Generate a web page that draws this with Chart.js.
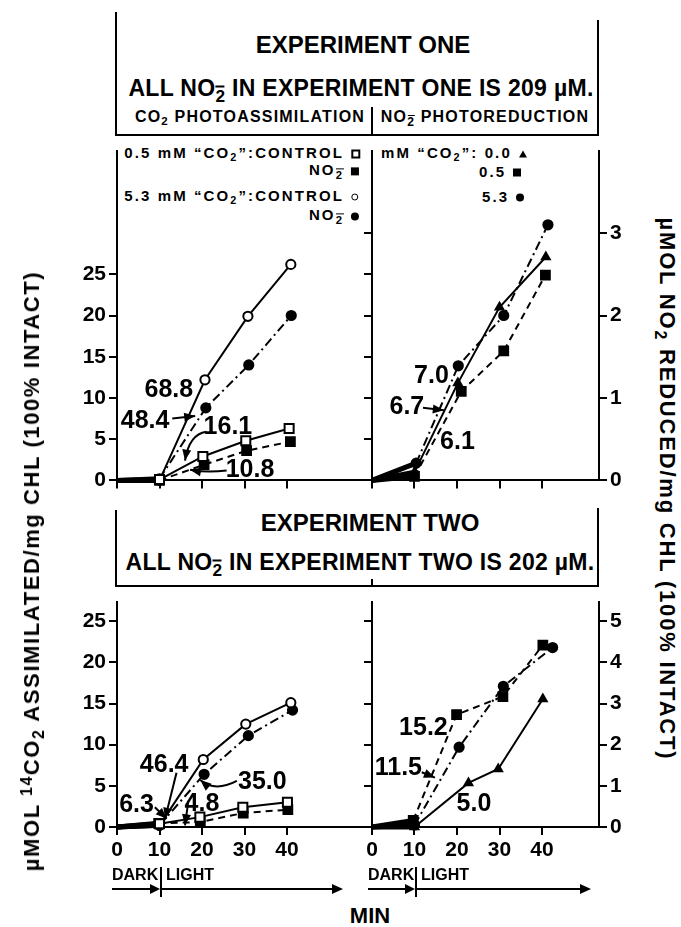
<!DOCTYPE html>
<html>
<head>
<meta charset="utf-8">
<script src="https://cdn.jsdelivr.net/npm/chart.js@4.4.1/dist/chart.umd.min.js"></script>
<style>
html,body{margin:0;padding:0;background:#fff}
body{position:relative;width:681px;height:927px;overflow:hidden;font-family:'Liberation Sans',Arial,Helvetica,sans-serif;font-weight:bold;color:#000}
canvas{position:absolute}
.t{position:absolute;white-space:nowrap;line-height:1}
.c{transform:translate(-50%,-50%)}
.l{transform:translate(0,-50%)}
.r{transform:translate(-100%,-50%)}
.ln{position:absolute;background:#000}
sub{font-size:.72em;vertical-align:-.3em;line-height:0}
sup{font-size:.72em;vertical-align:.45em;line-height:0}
.ion{position:relative;display:inline-block;vertical-align:baseline}
.ion i{font-style:normal;font-size:.75em;position:relative;top:.35em}
.ion b{position:absolute;left:.02em;right:.02em;height:.09em;bottom:.54em;background:#000}
.sym{display:inline-block;vertical-align:middle;margin-left:7px;box-sizing:border-box}
.osq{width:9px;height:9px;border:2px solid #000}
.fsq{width:8px;height:8px;background:#000}
.oci{width:7px;height:7px;border:1.5px solid #000;border-radius:50%}
.fci{width:8px;height:8px;background:#000;border-radius:50%}
.tri{width:0;height:0;border-left:4px solid transparent;border-right:4px solid transparent;border-bottom:7px solid #000}
.hd{font-size:24px}
.sub2{font-size:23px;letter-spacing:.3px}
.col{font-size:16px;letter-spacing:1.2px}
.lg{font-size:15px;letter-spacing:2.1px}
.dl{font-size:16px}
</style>
</head>
<body>

<!-- experiment one header box -->
<div class="ln" style="left:115px;top:12px;width:2px;height:124px"></div>
<div class="ln" style="left:597px;top:20px;width:2px;height:116px"></div>
<div class="ln" style="left:371px;top:107px;width:2px;height:29px"></div>
<div class="ln" style="left:115px;top:134px;width:484px;height:2px"></div>
<div class="t c hd" style="left:363px;top:45px">EXPERIMENT ONE</div>
<div class="t c sub2" style="left:361px;top:88px">ALL NO<span class="ion"><b></b><i>2</i></span> IN EXPERIMENT ONE IS 209 µM.</div>
<div class="t c col" style="left:250px;top:117px">CO<sub>2</sub> PHOTOASSIMILATION</div>
<div class="t c col" style="left:485px;top:117px">NO<span class="ion"><b></b><i>2</i></span> PHOTOREDUCTION</div>

<!-- legends -->
<div class="t r lg" style="left:360px;top:152px">0.5 mM “CO<sub>2</sub>”:CONTROL<span class="sym osq"></span></div>
<div class="t r lg" style="left:359px;top:170px">NO<span class="ion"><b></b><i>2</i></span><span class="sym fsq"></span></div>
<div class="t r lg" style="left:358px;top:195px">5.3 mM “CO<sub>2</sub>”:CONTROL<span class="sym oci"></span></div>
<div class="t r lg" style="left:359px;top:215px">NO<span class="ion"><b></b><i>2</i></span><span class="sym fci"></span></div>
<div class="t l lg" style="left:381px;top:152px">mM “CO<sub>2</sub>”: 0.0<span class="sym tri"></span></div>
<div class="t l lg" style="left:479px;top:171px">0.5<span class="sym fsq"></span></div>
<div class="t l lg" style="left:482px;top:196px">5.3<span class="sym fci"></span></div>

<!-- experiment two header box -->
<div class="ln" style="left:115px;top:510px;width:2px;height:77px"></div>
<div class="ln" style="left:597px;top:508px;width:2px;height:79px"></div>
<div class="ln" style="left:115px;top:585px;width:484px;height:2px"></div>
<div class="ln" style="left:371px;top:579px;width:2px;height:8px"></div>
<div class="t c hd" style="left:370px;top:523px">EXPERIMENT TWO</div>
<div class="t c sub2" style="left:360px;top:562px">ALL NO<span class="ion"><b></b><i>2</i></span> IN EXPERIMENT TWO IS 202 µM.</div>

<canvas id="cTL" width="335" height="361" style="left:37px;top:135px"></canvas>
<canvas id="cTR" width="280" height="361" style="left:362px;top:135px"></canvas>
<canvas id="cBL" width="335" height="286" style="left:37px;top:586px"></canvas>
<canvas id="cBR" width="280" height="286" style="left:362px;top:586px"></canvas>

<!-- dark / light bars -->
<div class="t l dl" style="left:112px;top:875px">DARK</div>
<div class="t l dl" style="left:166px;top:875px">LIGHT</div>
<div class="ln" style="left:160px;top:867px;width:2px;height:30px"></div>
<div class="ln" style="left:112px;top:888px;width:40px;height:2px"></div>
<div style="position:absolute;left:150px;top:884px;border-left:10px solid #000;border-top:5px solid transparent;border-bottom:5px solid transparent"></div>
<div class="ln" style="left:162px;top:888px;width:172px;height:2px"></div>
<div style="position:absolute;left:332px;top:884px;border-left:11px solid #000;border-top:5px solid transparent;border-bottom:5px solid transparent"></div>

<div class="t l dl" style="left:368px;top:875px">DARK</div>
<div class="t l dl" style="left:421px;top:875px">LIGHT</div>
<div class="ln" style="left:415px;top:867px;width:2px;height:30px"></div>
<div class="ln" style="left:368px;top:888px;width:39px;height:2px"></div>
<div style="position:absolute;left:405px;top:884px;border-left:10px solid #000;border-top:5px solid transparent;border-bottom:5px solid transparent"></div>
<div class="ln" style="left:417px;top:888px;width:165px;height:2px"></div>
<div style="position:absolute;left:580px;top:884px;border-left:11px solid #000;border-top:5px solid transparent;border-bottom:5px solid transparent"></div>

<div class="t c" style="left:370px;top:916px;font-size:22px">MIN</div>

<!-- axis titles -->
<div class="t" style="left:32px;top:571px;font-size:22px;letter-spacing:1.6px;transform:translate(-50%,-50%) rotate(-90deg)">µMOL <sup>14</sup>CO<sub>2</sub> ASSIMILATED/mg CHL (100% INTACT)</div>
<div class="t" style="left:667px;top:489px;font-size:22px;letter-spacing:1.8px;transform:translate(-50%,-50%) rotate(90deg)">µMOL NO<sub>2</sub> REDUCED/mg CHL (100% INTACT)</div>

<script>
// ---- data (time in min) ----
var XTICKS=[0,10,20,30,40];
var CO2_TICKS=[0,5,10,15,20,25];
var NO2_TICKS_1=[0,1,2,3];
var NO2_MINOR_1=[0.5,1,1.5,2,2.5,3];
var NO2_TICKS_2=[0,1,2,3,4,5];
var NO2_MINOR_2=[1,2,3,4,5];

// experiment one, CO2 photoassimilation
var e1LowCtrlT=[0,10,20.2,30.3,40.5], e1LowCtrl=[0,0.1,2.9,4.8,6.3];
var e1LowNo2T=[0,10,20.5,30.5,40.8],  e1LowNo2=[0,0,1.9,3.6,4.7];
var e1HiCtrlT=[0,10,20.7,30.8,40.9],  e1HiCtrl=[0,0,12.2,19.9,26.2];
var e1HiNo2T=[0,10,20.9,31,41],       e1HiNo2=[0,0.2,8.8,14.0,20.0];

// experiment one, NO2- photoreduction
var r1C0T=[0,10,20.2,30,40.9],    r1C0=[0,0.1,1.18,2.10,2.71];
var r1C05T=[0,10,21,31,40.8],     r1C05=[0,0.05,1.08,1.57,2.49];
var r1C53T=[0,10.4,20.3,31,41.4], r1C53=[0,0.21,1.39,2.0,3.10];

// experiment two, CO2 photoassimilation
var e2LowCtrlT=[0,10,19.5,29.6,40.1], e2LowCtrl=[0,0.4,1.2,2.4,3.0];
var e2LowNo2T=[0,9.8,19.6,29.7,40.2], e2LowNo2=[0,0.45,0.6,1.7,2.1];
var e2HiCtrlT=[0,10,20.3,30.3,40.9],  e2HiCtrl=[0,0.2,8.2,12.5,15.1];
var e2HiNo2T=[0,10,20.5,30.9,41.3],   e2HiNo2=[0,0.2,6.4,11.1,14.2];

// experiment two, NO2- photoreduction
var r2C0T=[0,10,22.7,29.7,40.2],  r2C0=[0,0,1.07,1.41,3.11];
var r2C05T=[0,9.7,19.9,30.8,40.2],r2C05=[0,0.16,2.73,3.17,4.42];
var r2C53T=[0,10,20.5,30.9,42.5], r2C53=[0,0.05,1.94,3.42,4.36];

// rate labels next to the curves
var notesTL=[
  {text:'68.8',at:[12.2,10.9]},
  {text:'48.4',at:[6.6,7.2],from:[13.0,7.5],to:[18.4,7.8]},
  {text:'16.1',at:[26.1,6.5],from:[21,5.9],ctrl:[17,5.6],to:[16,2.4]},
  {text:'10.8',at:[31.3,1.2],from:[25.8,1.2],ctrl:[21,0.9],to:[17.2,1.3]}
];
var notesTR=[
  {text:'7.0',at:[14.0,1.27]},
  {text:'6.7',at:[8.2,0.89],from:[12.0,0.88],to:[16.9,0.85]},
  {text:'6.1',at:[20.1,0.47]}
];
var notesBL=[
  {text:'46.4',at:[11.1,7.5],from:[14.0,6.6],to:[11.3,1.0]},
  {text:'6.3',at:[4.6,2.6],from:[8.9,2.4],to:[11.7,1.0]},
  {text:'4.8',at:[20,2.8],from:[16.8,3.2],to:[16.0,0.2]},
  {text:'35.0',at:[34.2,5.5],from:[28.2,5.6],ctrl:[23,4.2],to:[19.6,5.7]}
];
var notesBR=[
  {text:'15.2',at:[12.1,2.41]},
  {text:'11.5',at:[6.2,1.43],from:[11.7,1.33],to:[14.8,1.2]},
  {text:'5.0',at:[24,0.56]}
];

var K='#000';
var TICK_FONT={family:"'Liberation Sans',Arial,sans-serif",size:21,weight:'bold'};
var DASH=[7,5], DASHDOT=[9,4,2,4];

// marker + line styles
var ST={
  openSq:{pointStyle:'rect',pointRadius:6.4,pointBackgroundColor:'#fff',borderDash:[]},
  fillSq:{pointStyle:'rect',pointRadius:6.2,pointBackgroundColor:K,borderDash:DASH},
  openCi:{pointStyle:'circle',pointRadius:4.6,pointBackgroundColor:'#fff',borderDash:[]},
  fillCi:{pointStyle:'circle',pointRadius:4.6,pointBackgroundColor:K,borderDash:DASHDOT},
  tri:{pointStyle:'triangle',pointRadius:4.5,pointBackgroundColor:K,borderDash:[]}
};

function pts(t,v){return t.map(function(x,i){return {x:x,y:v[i]};});}
function ds(label,t,v,st,axis){
  var s=ST[st];
  return {label:label,data:pts(t,v),yAxisID:axis||'y',borderColor:K,borderWidth:2,borderDash:s.borderDash,
    pointStyle:s.pointStyle,
    // the dark-period start point sits under the thick baseline, no marker shows there
    pointRadius:function(c){return c.dataIndex===0?0:s.pointRadius;},
    pointBackgroundColor:s.pointBackgroundColor,
    pointBorderColor:K,pointBorderWidth:2,tension:0,clip:false,fill:false,
    segment:{
      borderWidth:function(c){return c.p0DataIndex===0?5:2;},
      borderDash:function(c){return c.p0DataIndex===0?[]:s.borderDash;}
    }};
}

function fixTicks(list){return function(s){s.ticks=list.map(function(v){return {value:v};});};}
function xAxis(max,labels,h){
  return {type:'linear',position:'bottom',min:0,max:max,afterBuildTicks:fixTicks(XTICKS),
    afterFit:function(s){s.height=h;},
    ticks:{display:labels,color:K,font:TICK_FONT,padding:3,maxRotation:0,autoSkip:false},
    grid:{drawOnChartArea:false,tickLength:8,color:K,lineWidth:2},
    border:{color:K,width:2}};
}
function yAxis(pos,max,list,labels,w){
  return {type:'linear',position:pos,min:0,max:max,afterBuildTicks:fixTicks(list),
    afterFit:function(s){s.width=w;},
    ticks:{display:labels,color:K,font:TICK_FONT,padding:3,autoSkip:false},
    grid:{drawOnChartArea:false,tickLength:8,color:K,lineWidth:2},
    border:{color:K,width:2}};
}

// draws the rate numbers and their arrows in data coordinates
var notesPlugin={id:'notes',afterDatasetsDraw:function(chart,args,opts){
  var xs=chart.scales.x, ys=chart.scales[opts.axis];
  var ctx=chart.ctx;
  function P(p){return [xs.getPixelForValue(p[0]),ys.getPixelForValue(p[1])];}
  ctx.save();
  ctx.fillStyle=K;ctx.strokeStyle=K;ctx.lineWidth=2;
  ctx.font="bold 25px 'Liberation Sans',Arial,sans-serif";
  ctx.textAlign='center';ctx.textBaseline='middle';
  opts.items.forEach(function(n){
    var a=P(n.at);
    ctx.fillText(n.text,a[0],a[1]);
    if(!n.from)return;
    var f=P(n.from),e=P(n.to),c=n.ctrl?P(n.ctrl):null;
    ctx.beginPath();ctx.moveTo(f[0],f[1]);
    if(c)ctx.quadraticCurveTo(c[0],c[1],e[0],e[1]);else ctx.lineTo(e[0],e[1]);
    ctx.stroke();
    var b=c||f, ang=Math.atan2(e[1]-b[1],e[0]-b[0]);
    ctx.beginPath();ctx.moveTo(e[0],e[1]);
    ctx.lineTo(e[0]-11*Math.cos(ang)+4.5*Math.sin(ang),e[1]-11*Math.sin(ang)-4.5*Math.cos(ang));
    ctx.lineTo(e[0]-11*Math.cos(ang)-4.5*Math.sin(ang),e[1]-11*Math.sin(ang)+4.5*Math.cos(ang));
    ctx.closePath();ctx.fill();
  });
  ctx.restore();
}};

function panel(id,datasets,scales,notes,axis){
  return new Chart(document.getElementById(id),{
    type:'line',
    data:{datasets:datasets},
    options:{responsive:false,animation:false,
      layout:{padding:0,autoPadding:false},
      plugins:{legend:{display:false},tooltip:{enabled:false},notes:{items:notes,axis:axis}},
      scales:scales},
    plugins:[notesPlugin]
  });
}

Chart.defaults.font.family="'Liberation Sans',Arial,sans-serif";

panel('cTL',[
  ds('0.5 mM control',e1LowCtrlT,e1LowCtrl,'openSq'),
  ds('0.5 mM NO2-',e1LowNo2T,e1LowNo2,'fillSq'),
  ds('5.3 mM control',e1HiCtrlT,e1HiCtrl,'openCi'),
  ds('5.3 mM NO2-',e1HiNo2T,e1HiNo2,'fillCi')
],{x:xAxis(60,false,12),y:yAxis('left',40,CO2_TICKS,true,80)},notesTL,'y');

panel('cTR',[
  ds('0.0',r1C0T,r1C0,'tri','y2'),
  ds('0.5',r1C05T,r1C05,'fillSq','y2'),
  ds('5.3',r1C53T,r1C53,'fillCi','y2')
],{x:xAxis(227/4.25,false,12),y:yAxis('left',4,NO2_MINOR_1,false,10),y2:yAxis('right',4,NO2_TICKS_1,true,43)},notesTR,'y2');

panel('cBL',[
  ds('0.5 mM control',e2LowCtrlT,e2LowCtrl,'openSq'),
  ds('0.5 mM NO2-',e2LowNo2T,e2LowNo2,'fillSq'),
  ds('5.3 mM control',e2HiCtrlT,e2HiCtrl,'openCi'),
  ds('5.3 mM NO2-',e2HiNo2T,e2HiNo2,'fillCi')
],{x:xAxis(60,true,45),y:yAxis('left',241/8.8,CO2_TICKS,true,80)},notesBL,'y');

panel('cBR',[
  ds('0.0',r2C0T,r2C0,'tri','y2'),
  ds('0.5',r2C05T,r2C05,'fillSq','y2'),
  ds('5.3',r2C53T,r2C53,'fillCi','y2')
],{x:xAxis(227/4.25,true,45),y:yAxis('left',241/44,NO2_MINOR_2,false,10),y2:yAxis('right',241/44,NO2_TICKS_2,true,43)},notesBR,'y2');
</script>
</body>
</html>
